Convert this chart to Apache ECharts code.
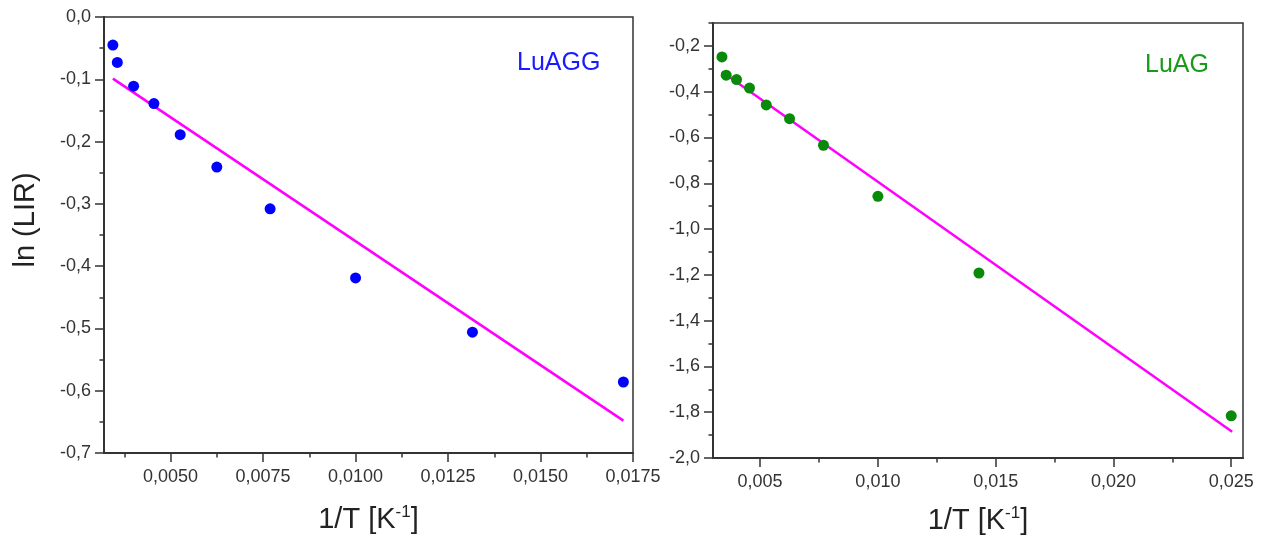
<!DOCTYPE html>
<html>
<head>
<meta charset="utf-8">
<script src="https://cdn.jsdelivr.net/npm/echarts@6/dist/echarts.min.js"></script>
<style>
  html, body { margin: 0; padding: 0; background: #fff; }
  #chart { width: 1265px; height: 539px; }
</style>
</head>
<body>
<div id="chart"></div>
<script>
// LuAGG (left panel)
const luaggX = [0.00344, 0.00356, 0.00400, 0.00455, 0.00526, 0.00625, 0.00769, 0.01000, 0.01316, 0.01724];
const luaggY = [-0.045, -0.073, -0.111, -0.139, -0.189, -0.241, -0.308, -0.419, -0.506, -0.586];
const luaggFitX = [0.00344, 0.01724];
const luaggFitY = [-0.099, -0.648];

// LuAG (right panel)
const luagX = [0.00338, 0.00356, 0.00400, 0.00455, 0.00526, 0.00625, 0.00769, 0.01000, 0.01429, 0.02500];
const luagY = [-0.248, -0.328, -0.347, -0.384, -0.458, -0.518, -0.634, -0.857, -1.192, -1.816];
const luagFitX = [0.00338, 0.02504];
const luagFitY = [-0.313, -1.885];

// tick positions
const leftXMajor = [0.005, 0.0075, 0.01, 0.0125, 0.015, 0.0175];
const leftXMinor = [0.00375, 0.00625, 0.00875, 0.01125, 0.01375, 0.01625];
const leftYMajor = [0, -0.1, -0.2, -0.3, -0.4, -0.5, -0.6, -0.7];
const leftYMinor = [-0.05, -0.15, -0.25, -0.35, -0.45, -0.55, -0.65];
const rightXMajor = [0.005, 0.01, 0.015, 0.02, 0.025];
const rightXMinor = [0.0075, 0.0125, 0.0175, 0.0225];
const rightYMajor = [-2.0, -1.8, -1.6, -1.4, -1.2, -1.0, -0.8, -0.6, -0.4, -0.2];
const rightYMinor = [-1.9, -1.7, -1.5, -1.3, -1.1, -0.9, -0.7, -0.5, -0.3, -0.1];

const FONT = "'Liberation Sans', Arial, sans-serif";
const AX = '#333';

function pairs(xs, ys) {
  return xs.map((x, i) => [x, ys[i]]);
}
function comma(digits) {
  return v => v.toFixed(digits).replace('.', ',');
}

// main axis: line, long ticks, labels
function mainAxis(grid, pos, min, max, ticks, digits, extra) {
  return Object.assign({
    type: 'value', gridIndex: grid, position: pos, min: min, max: max,
    axisLine: { show: true, onZero: false, lineStyle: { color: AX, width: 2 } },
    axisTick: { show: true, customValues: ticks, length: 9, lineStyle: { color: AX, width: 1.5 } },
    axisLabel: {
      customValues: ticks, formatter: comma(digits),
      fontFamily: FONT, fontSize: 18, color: '#333',
      margin: (pos === 'bottom') ? 15 : 13
    },
    splitLine: { show: false }
  }, extra || {});
}
// twin axis only for short ticks
function minorAxis(grid, pos, min, max, ticks) {
  return {
    type: 'value', gridIndex: grid, position: pos, min: min, max: max,
    axisLine: { show: false, onZero: false },
    axisTick: { show: true, customValues: ticks, length: 4.5, lineStyle: { color: AX, width: 1.5 } },
    axisLabel: { show: false },
    splitLine: { show: false }
  };
}

function xName(gap) {
  return {
    name: '1/T [K{sup|-1}]',
    nameLocation: 'middle',
    nameGap: gap,
    nameTextStyle: {
      fontFamily: FONT, fontSize: 29, color: '#222', lineHeight: 31,
      rich: { sup: { fontFamily: FONT, fontSize: 17, color: '#222', verticalAlign: 'top', lineHeight: 31 } }
    }
  };
}

const chart = echarts.init(document.getElementById('chart'));
chart.setOption({
  backgroundColor: '#fff',
  animation: false,
  title: [
    { text: 'LuAGG', left: 512, top: 46, textStyle: { fontFamily: FONT, fontSize: 25, fontWeight: 'normal', color: '#1a1aff' } },
    { text: 'LuAG', left: 1140, top: 48, textStyle: { fontFamily: FONT, fontSize: 25, fontWeight: 'normal', color: '#1a9a1a' } }
  ],
  grid: [
    { left: 104, top: 17, width: 529, height: 436, outerBoundsMode: 'none', show: true, borderColor: AX, borderWidth: 1.5, backgroundColor: 'transparent' },
    { left: 713, top: 23, width: 530, height: 435, outerBoundsMode: 'none', show: true, borderColor: AX, borderWidth: 1.5, backgroundColor: 'transparent' }
  ],
  xAxis: [
    mainAxis(0, 'bottom', 0.0032, 0.0175, leftXMajor, 4, xName(51)),
    minorAxis(0, 'bottom', 0.0032, 0.0175, leftXMinor),
    mainAxis(1, 'bottom', 0.003, 0.0255, rightXMajor, 3, xName(47)),
    minorAxis(1, 'bottom', 0.003, 0.0255, rightXMinor)
  ],
  yAxis: [
    mainAxis(0, 'left', -0.7, 0, leftYMajor, 1, {
      name: 'ln (LIR)', nameLocation: 'middle', nameGap: 64, nameRotate: 90,
      nameTextStyle: { fontFamily: FONT, fontSize: 29, color: '#222', padding: [0, 0, 0, 30] }
    }),
    minorAxis(0, 'left', -0.7, 0, leftYMinor),
    mainAxis(1, 'left', -2.0, -0.1, rightYMajor, 1),
    minorAxis(1, 'left', -2.0, -0.1, rightYMinor)
  ],
  series: [
    {
      type: 'line', xAxisIndex: 0, yAxisIndex: 0, data: pairs(luaggFitX, luaggFitY),
      showSymbol: false, symbol: 'none', lineStyle: { color: '#ff00ff', width: 2.5 }, z: 2
    },
    {
      type: 'scatter', xAxisIndex: 0, yAxisIndex: 0, data: pairs(luaggX, luaggY),
      symbolSize: 11, itemStyle: { color: '#0000ff', opacity: 1 }, z: 3
    },
    {
      type: 'line', xAxisIndex: 2, yAxisIndex: 2, data: pairs(luagFitX, luagFitY),
      showSymbol: false, symbol: 'none', lineStyle: { color: '#ff00ff', width: 2.5 }, z: 2
    },
    {
      type: 'scatter', xAxisIndex: 2, yAxisIndex: 2, data: pairs(luagX, luagY),
      symbolSize: 11, itemStyle: { color: '#0a8a0a', opacity: 1 }, z: 3
    }
  ]
});
</script>
</body>
</html>
